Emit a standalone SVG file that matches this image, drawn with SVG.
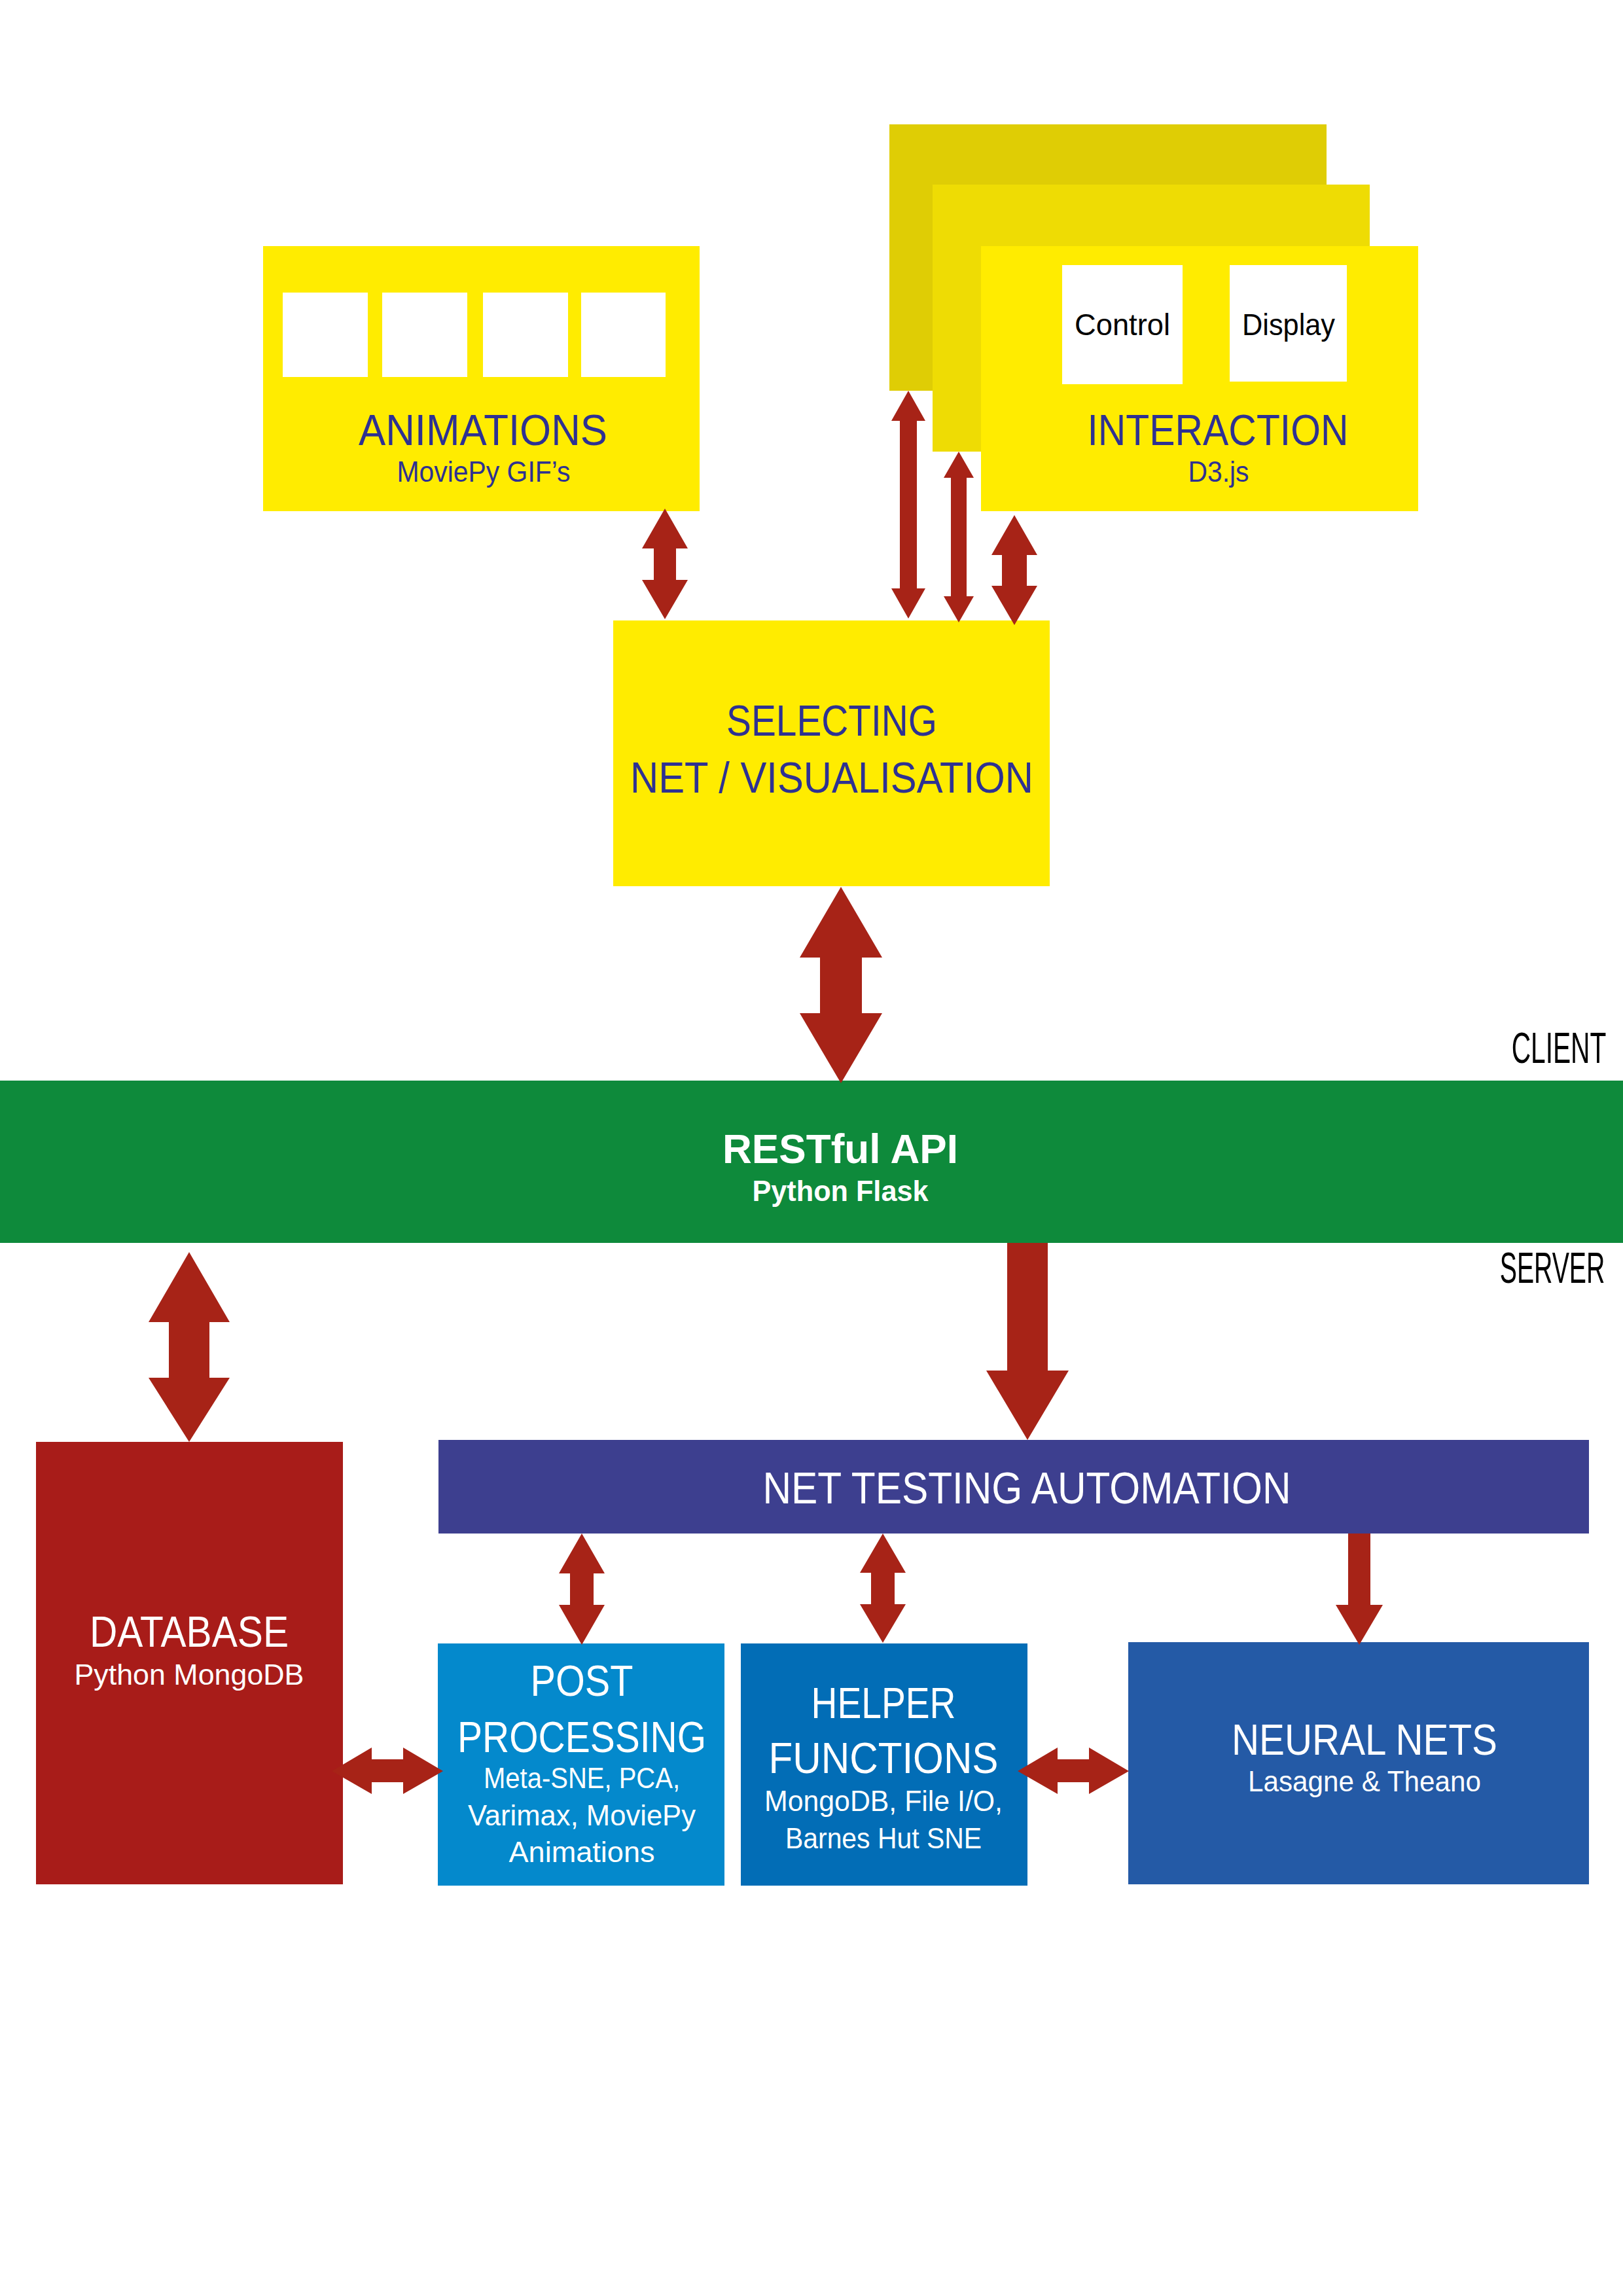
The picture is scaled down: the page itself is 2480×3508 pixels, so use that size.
<svg xmlns="http://www.w3.org/2000/svg" width="2480" height="3508" viewBox="0 0 2480 3508">
<style>
text{font-family:"Liberation Sans","Noto Sans",sans-serif;text-anchor:middle}
.h{font-size:67px}
.s{font-size:44px}
.blue{fill:#2E3192}
.w{fill:#ffffff}
.k{fill:#000000}
.b{font-weight:bold}
.arr{fill:#A72317}
.yel{fill:#FFEC00}
</style>
<rect width="2480" height="3508" fill="#ffffff"/>

<g id="animations">
<rect class="yel" x="402" y="376" width="667" height="405"/>
<rect fill="#fff" x="432" y="447" width="130" height="129"/>
<rect fill="#fff" x="584" y="447" width="130" height="129"/>
<rect fill="#fff" x="738" y="447" width="130" height="129"/>
<rect fill="#fff" x="888" y="447" width="129" height="129"/>
<text class="h blue" x="738" y="680" textLength="380" lengthAdjust="spacingAndGlyphs">ANIMATIONS</text>
<text class="s blue" x="739" y="736" textLength="265" lengthAdjust="spacingAndGlyphs">MoviePy GIF’s</text>
</g>

<g id="interaction">
<rect fill="#DFCD05" x="1359" y="190" width="668" height="407"/>
<rect fill="#EEDC04" x="1425" y="282" width="668" height="408"/>
<rect class="yel" x="1499" y="376" width="668" height="405"/>
<rect fill="#fff" x="1623" y="405" width="184" height="182"/>
<rect fill="#fff" x="1879" y="405" width="179" height="178"/>
<text class="k" font-size="46" x="1715" y="512" textLength="146" lengthAdjust="spacingAndGlyphs">Control</text>
<text class="k" font-size="46" x="1969" y="512" textLength="142" lengthAdjust="spacingAndGlyphs">Display</text>
<text class="h blue" x="1861" y="680" textLength="399" lengthAdjust="spacingAndGlyphs">INTERACTION</text>
<text class="s blue" x="1862" y="736" textLength="93" lengthAdjust="spacingAndGlyphs">D3.js</text>
</g>

<g id="selecting">
<rect class="yel" x="937" y="948" width="667" height="406"/>
<text class="h blue" x="1271" y="1124" textLength="322" lengthAdjust="spacingAndGlyphs">SELECTING</text>
<text class="h blue" x="1271" y="1211" textLength="616" lengthAdjust="spacingAndGlyphs">NET / VISUALISATION</text>
</g>

<g id="restful-api">
<rect fill="#0E8A3B" x="0" y="1651" width="2480" height="248"/>
<text class="w b" font-size="63" x="1284" y="1777" textLength="360" lengthAdjust="spacingAndGlyphs">RESTful API</text>
<text class="w b s" x="1284" y="1835" textLength="269" lengthAdjust="spacingAndGlyphs">Python Flask</text>
</g>

<g id="labels">
<text class="k" font-size="40.7" transform="translate(2382,1624) scale(1,1.62)" x="0" y="0">CLIENT</text>
<text class="k" font-size="39.2" transform="translate(2372,1960) scale(1,1.68)" x="0" y="0">SERVER</text>
</g>

<g id="database">
<rect fill="#A81C19" x="55" y="2203" width="469" height="676"/>
<text class="h w" x="289" y="2516" textLength="304" lengthAdjust="spacingAndGlyphs">DATABASE</text>
<text class="s w" x="289" y="2574" textLength="351" lengthAdjust="spacingAndGlyphs">Python MongoDB</text>
</g>

<g id="net-testing">
<rect fill="#3D3F8F" x="670" y="2200" width="1758" height="143"/>
<text class="w" font-size="68" x="1569" y="2297" textLength="807" lengthAdjust="spacingAndGlyphs">NET TESTING AUTOMATION</text>
</g>

<g id="post-processing">
<rect fill="#0489CC" x="669" y="2511" width="438" height="370"/>
<text class="h w" x="889" y="2591" textLength="157" lengthAdjust="spacingAndGlyphs">POST</text>
<text class="h w" x="889" y="2677" textLength="380" lengthAdjust="spacingAndGlyphs">PROCESSING</text>
<text class="s w" x="889" y="2732" textLength="300" lengthAdjust="spacingAndGlyphs">Meta-SNE, PCA,</text>
<text class="s w" x="889" y="2789" textLength="348" lengthAdjust="spacingAndGlyphs">Varimax, MoviePy</text>
<text class="s w" x="889" y="2845" textLength="223" lengthAdjust="spacingAndGlyphs">Animations</text>
</g>

<g id="helper-functions">
<rect fill="#026DB6" x="1132" y="2511" width="438" height="370"/>
<text class="h w" x="1350" y="2625" textLength="221" lengthAdjust="spacingAndGlyphs">HELPER</text>
<text class="h w" x="1350" y="2709" textLength="351" lengthAdjust="spacingAndGlyphs">FUNCTIONS</text>
<text class="s w" x="1350" y="2767" textLength="364" lengthAdjust="spacingAndGlyphs">MongoDB, File I/O,</text>
<text class="s w" x="1350" y="2824" textLength="300" lengthAdjust="spacingAndGlyphs">Barnes Hut SNE</text>
</g>

<g id="neural-nets">
<rect fill="#245AA6" x="1724" y="2509" width="704" height="370"/>
<text class="h w" x="2085" y="2681" textLength="406" lengthAdjust="spacingAndGlyphs">NEURAL NETS</text>
<text class="s w" x="2085" y="2737" textLength="356" lengthAdjust="spacingAndGlyphs">Lasagne &amp; Theano</text>
</g>

<g id="connectors">
<polygon class="arr" points="1016,777 1051,838 1033,838 1033,886 1051,886 1016,946 981,886 999,886 999,838 981,838"/>
<polygon class="arr" points="1388,597 1414,643 1401,643 1401,899 1414,899 1388,945 1362,899 1375,899 1375,643 1362,643"/>
<polygon class="arr" points="1465,690 1488,730 1477,730 1477,911 1488,911 1465,951 1442,911 1453,911 1453,730 1442,730"/>
<polygon class="arr" points="1550,787 1585,848 1569,848 1569,895 1585,895 1550,955 1515,895 1531,895 1531,848 1515,848"/>
<polygon class="arr" points="1285,1355 1348,1463 1317,1463 1317,1548 1348,1548 1285,1655 1222,1548 1253,1548 1253,1463 1222,1463"/>
<polygon class="arr" points="1539,1899 1601,1899 1601,2094 1633,2094 1570,2200 1507,2094 1539,2094"/>
<polygon class="arr" points="289,1913 351,2020 320,2020 320,2105 351,2105 289,2203 227,2105 258,2105 258,2020 227,2020"/>
<polygon class="arr" points="889,2343 924,2404 907,2404 907,2452 924,2452 889,2513 854,2452 871,2452 871,2404 854,2404"/>
<polygon class="arr" points="1349,2343 1384,2403 1367,2403 1367,2451 1384,2451 1349,2510 1314,2451 1331,2451 1331,2403 1314,2403"/>
<polygon class="arr" points="2060,2343 2094,2343 2094,2452 2113,2452 2077,2513 2041,2452 2060,2452"/>
<polygon class="arr" points="507,2706 568,2670 568,2688 616,2688 616,2670 677,2706 616,2741 616,2723 568,2723 568,2741"/>
<polygon class="arr" points="1555,2706 1616,2670 1616,2688 1664,2688 1664,2670 1725,2706 1664,2741 1664,2723 1616,2723 1616,2741"/>
</g>
</svg>
